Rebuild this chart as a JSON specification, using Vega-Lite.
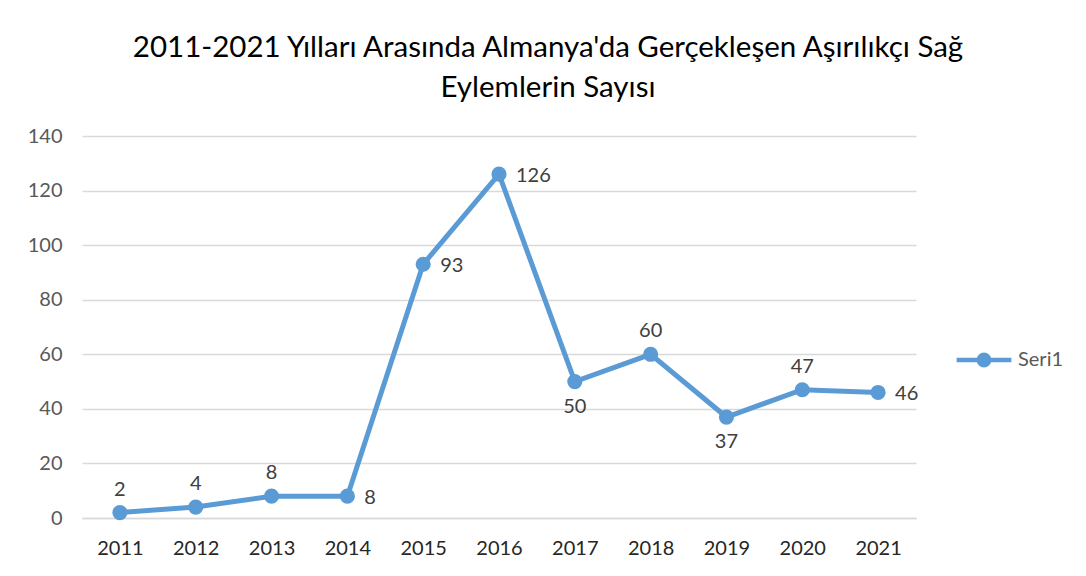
{
  "$schema": "https://vega.github.io/schema/vega-lite/v6.json",
  "width": 834,
  "height": 382,
  "autosize": {"type": "none"},
  "padding": {"left": 82, "top": 136, "right": 170, "bottom": 58},
  "background": "white",
  "title": {
    "text": ["2011-2021 Yılları Arasında Almanya'da Gerçekleşen Aşırılıkçı Sağ", "Eylemlerin Sayısı"],
    "font": "Lato",
    "fontSize": 29.5,
    "fontWeight": "normal",
    "color": "#000000",
    "lineHeight": 40,
    "anchor": "middle",
    "dx": 49,
    "offset": 23
  },
  "config": {
    "view": {"stroke": null},
    "font": "Lato",
    "axis": {"labelFont": "Lato", "labelFontSize": 20, "labelColor": "#595959", "gridColor": "#D9D9D9", "domainColor": "#D9D9D9", "ticks": false, "title": null}
  },
  "data": {
    "values": [
      {"year": "2011", "value": 2, "series": "Seri1"},
      {"year": "2012", "value": 4, "series": "Seri1"},
      {"year": "2013", "value": 8, "series": "Seri1"},
      {"year": "2014", "value": 8, "series": "Seri1"},
      {"year": "2015", "value": 93, "series": "Seri1"},
      {"year": "2016", "value": 126, "series": "Seri1"},
      {"year": "2017", "value": 50, "series": "Seri1"},
      {"year": "2018", "value": 60, "series": "Seri1"},
      {"year": "2019", "value": 37, "series": "Seri1"},
      {"year": "2020", "value": 47, "series": "Seri1"},
      {"year": "2021", "value": 46, "series": "Seri1"}
    ]
  },
  "encoding": {
    "x": {"field": "year", "type": "ordinal", "scale": {"paddingInner": 0, "paddingOuter": 0}, "axis": {"labelAngle": 0, "grid": false, "labelPadding": 20, "domainWidth": 1.5, "labelColor": "#262626"}},
    "y": {"field": "value", "type": "quantitative", "scale": {"domain": [0, 140], "nice": false}, "axis": {"values": [0, 20, 40, 60, 80, 100, 120, 140], "labelOverlap": false, "domain": false, "labelPadding": 20, "gridWidth": 1.5}}
  },
  "layer": [
    {
      "mark": {"type": "line", "strokeWidth": 5, "point": {"size": 230, "filled": true, "opacity": 1}},
      "encoding": {
        "color": {"field": "series", "type": "nominal", "scale": {"range": ["#5B9BD5"]},
          "legend": {"title": null, "orient": "none", "legendX": 872, "legendY": 194, "labelFont": "Lato", "labelFontSize": 20, "labelColor": "#595959", "symbolType": "M-1,0H1M-0.19,0A0.19,0.19 0 1,1 0.19,0A0.19,0.19 0 1,1 -0.19,0Z", "symbolSize": 3000, "symbolStrokeWidth": 4.5, "symbolFillColor": "#5B9BD5", "symbolStrokeColor": "#5B9BD5", "labelOffset": 4}}
      }
    },
    {
      "transform": [{"filter": "indexof(['2011','2012','2013','2018','2020'], datum.year) >= 0"}],
      "mark": {"type": "text", "dy": -23, "font": "Lato", "fontSize": 20, "color": "#404040"},
      "encoding": {"text": {"field": "value", "type": "quantitative"}}
    },
    {
      "transform": [{"filter": "indexof(['2014','2015','2016','2021'], datum.year) >= 0"}],
      "mark": {"type": "text", "align": "left", "dx": 17, "dy": 2, "font": "Lato", "fontSize": 20, "color": "#404040"},
      "encoding": {"text": {"field": "value", "type": "quantitative"}}
    },
    {
      "transform": [{"filter": "indexof(['2017','2019'], datum.year) >= 0"}],
      "mark": {"type": "text", "dy": 25, "font": "Lato", "fontSize": 20, "color": "#404040"},
      "encoding": {"text": {"field": "value", "type": "quantitative"}}
    }
  ]
}
